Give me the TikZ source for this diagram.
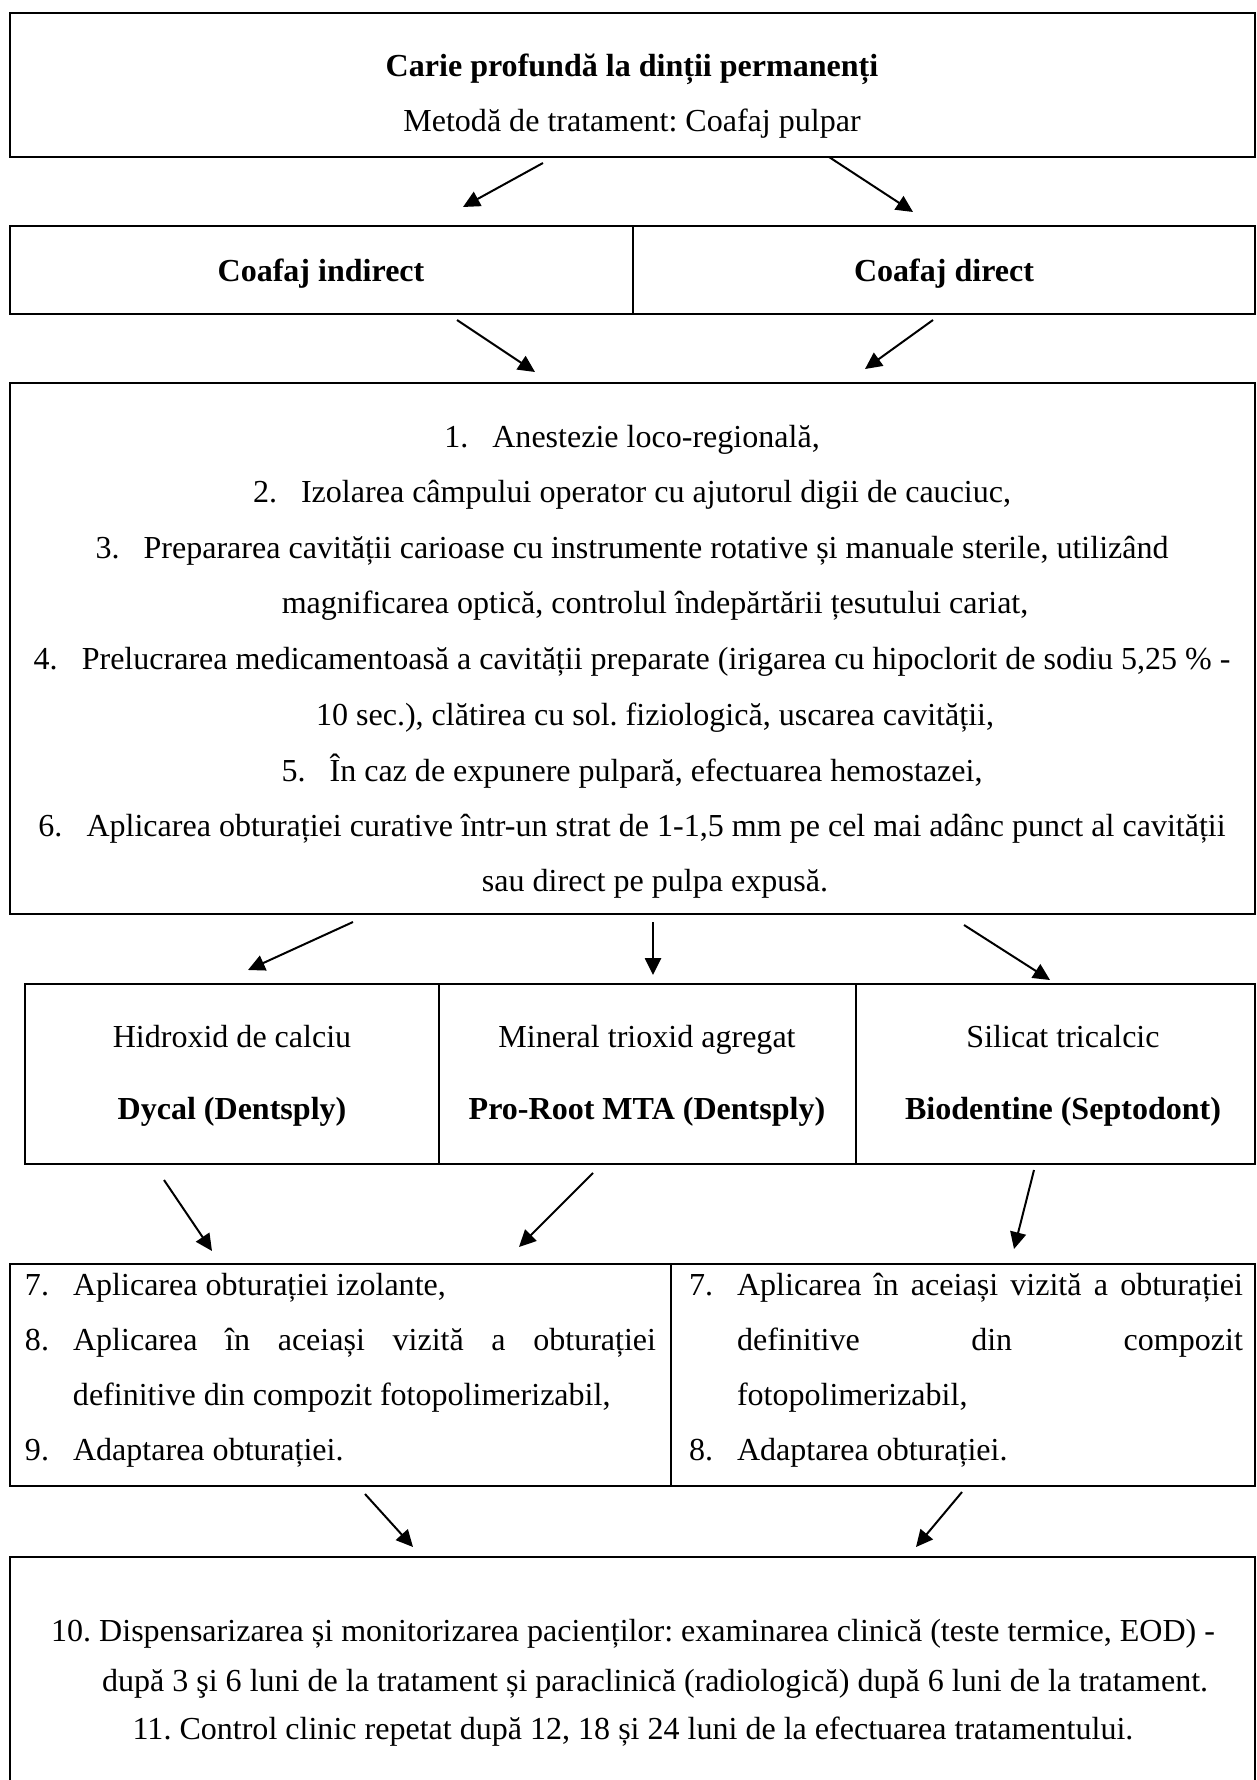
\documentclass[tikz,border=0pt]{standalone}
\usepackage{fontspec}
\setmainfont{Liberation Serif}
\usetikzlibrary{arrows.meta}
\frenchspacing
% list number with a hanging tab
\newcommand{\nr}[1]{\makebox[18.6pt][l]{#1}}

\begin{document}
\begin{tikzpicture}[x = .387pt, y = -.387pt, line width = .77pt,
  txt/.style = {anchor = base, inner sep = 0pt, font = \fontsize{12.4}{15}\selectfont},
  hd/.style = {txt, font = \fontsize{12.4}{15}\selectfont\bfseries},
  lft/.style = {txt, anchor = base west},
  arr/.style = {-{Triangle[length = 6.5pt, width = 6.2pt]}}]
\useasboundingbox (0,0) rectangle (1256,1780);

% table frames
\draw (10,13) rectangle (1255,157);
\draw (10,226) rectangle (1255,314);
\draw (633,226) -- (633,314);
\draw (10,383) rectangle (1255,914);
\draw (25,984) rectangle (1255,1164);
\draw (439,984) -- (439,1164);
\draw (856,984) -- (856,1164);
\draw (10,1264) rectangle (1255,1486);
\draw (671,1264) -- (671,1486);
\draw (10,1557) rectangle (1255,1795);

% header
\node[hd] (title) at (632,77) {Carie profundă la dinții permanenți};
\node[txt] (method) at (632,132) {Metodă de tratament: Coafaj pulpar};

% two ways of capping
\node[hd] (ind) at (321,282) {Coafaj indirect};
\node[hd] (dir) at (944,282) {Coafaj direct};

% common steps
\node[txt] (s1) at (632,448) {\nr{1.}Anestezie loco-regională,};
\node[txt] (s2) at (632,503) {\nr{2.}Izolarea câmpului operator cu ajutorul digii de cauciuc,};
\node[txt] (s3) at (632,559) {\nr{3.}Prepararea cavității carioase cu instrumente rotative și manuale sterile, utilizând};
\node[txt] (s3b) at (655,614) {magnificarea optică, controlul îndepărtării țesutului cariat,};
\node[txt] (s4) at (632,670) {\nr{4.}Prelucrarea medicamentoasă a cavității preparate (irigarea cu hipoclorit de sodiu 5,25 \% -};
\node[txt] (s4b) at (655,725) {10 sec.), clătirea cu sol. fiziologică, uscarea cavității,};
\node[txt] (s5) at (632,781) {\nr{5.}În caz de expunere pulpară, efectuarea hemostazei,};
\node[txt] (s6) at (632,836) {\nr{6.}Aplicarea obturației curative într-un strat de 1-1,5 mm pe cel mai adânc punct al cavității};
\node[txt] (s6b) at (655,891) {sau direct pe pulpa expusă.};

% materials
\node[txt] (m1) at (232,1047) {Hidroxid de calciu};
\node[hd] (p1) at (232,1119) {Dycal (Dentsply)};
\node[txt] (m2) at (647,1047) {Mineral trioxid agregat};
\node[hd] (p2) at (647,1119) {Pro-Root MTA (Dentsply)};
\node[txt] (m3) at (1063,1047) {Silicat tricalcic};
\node[hd] (p3) at (1063,1119) {Biodentine (Septodont)};

% restoration, left column
\node[lft] (l7) at (24,1295) {\nr{7.}Aplicarea obturației izolante,};
\node[lft] (l8) at (24,1350) {\nr{8.}\makebox[225.6pt][s]{Aplicarea în aceiași vizită a obturației}};
\node[lft] (l8b) at (72,1405) {definitive din compozit fotopolimerizabil,};
\node[lft] (l9) at (24,1460) {\nr{9.}Adaptarea obturației.};

% restoration, right column
\node[lft] (r7) at (688,1295) {\nr{7.}\makebox[195.8pt][s]{Aplicarea în aceiași vizită a obturației}};
\node[lft] (r7b) at (736,1350) {\makebox[195.8pt][s]{definitive din compozit}};
\node[lft] (r7c) at (736,1405) {fotopolimerizabil,};
\node[lft] (r8) at (688,1460) {\nr{8.}Adaptarea obturației.};

% follow-up
\node[txt] (f10) at (633,1641) {10. Dispensarizarea și monitorizarea pacienților: examinarea clinică (teste termice, EOD) -};
\node[txt] (f10b) at (655,1691) {după 3 şi 6 luni de la tratament și paraclinică (radiologică) după 6 luni de la tratament.};
\node[txt] (f11) at (633,1739) {11. Control clinic repetat după 12, 18 și 24 luni de la efectuarea tratamentului.};

% arrow ends
\coordinate (a1) at (543,163);  \coordinate (b1) at (463,207);
\coordinate (a2) at (829,157);  \coordinate (b2) at (913,212);
\coordinate (a3) at (457,320);  \coordinate (b3) at (535,372);
\coordinate (a4) at (933,320);  \coordinate (b4) at (865,369);
\coordinate (a5) at (353,922);  \coordinate (b5) at (248,970);
\coordinate (a6) at (653,922);  \coordinate (b6) at (653,975);
\coordinate (a7) at (964,925);  \coordinate (b7) at (1050,980);
\coordinate (a8) at (164,1180); \coordinate (b8) at (212,1251);
\coordinate (a9) at (593,1173); \coordinate (b9) at (519,1247);
\coordinate (a10) at (1034,1170); \coordinate (b10) at (1014,1249);
\coordinate (a11) at (365,1494); \coordinate (b11) at (413,1547);
\coordinate (a12) at (962,1492); \coordinate (b12) at (916,1547);

\draw[arr] (a1) -- (b1);
\draw[arr] (a2) -- (b2);
\draw[arr] (a3) -- (b3);
\draw[arr] (a4) -- (b4);
\draw[arr] (a5) -- (b5);
\draw[arr] (a6) -- (b6);
\draw[arr] (a7) -- (b7);
\draw[arr] (a8) -- (b8);
\draw[arr] (a9) -- (b9);
\draw[arr] (a10) -- (b10);
\draw[arr] (a11) -- (b11);
\draw[arr] (a12) -- (b12);
\end{tikzpicture}
\end{document}
